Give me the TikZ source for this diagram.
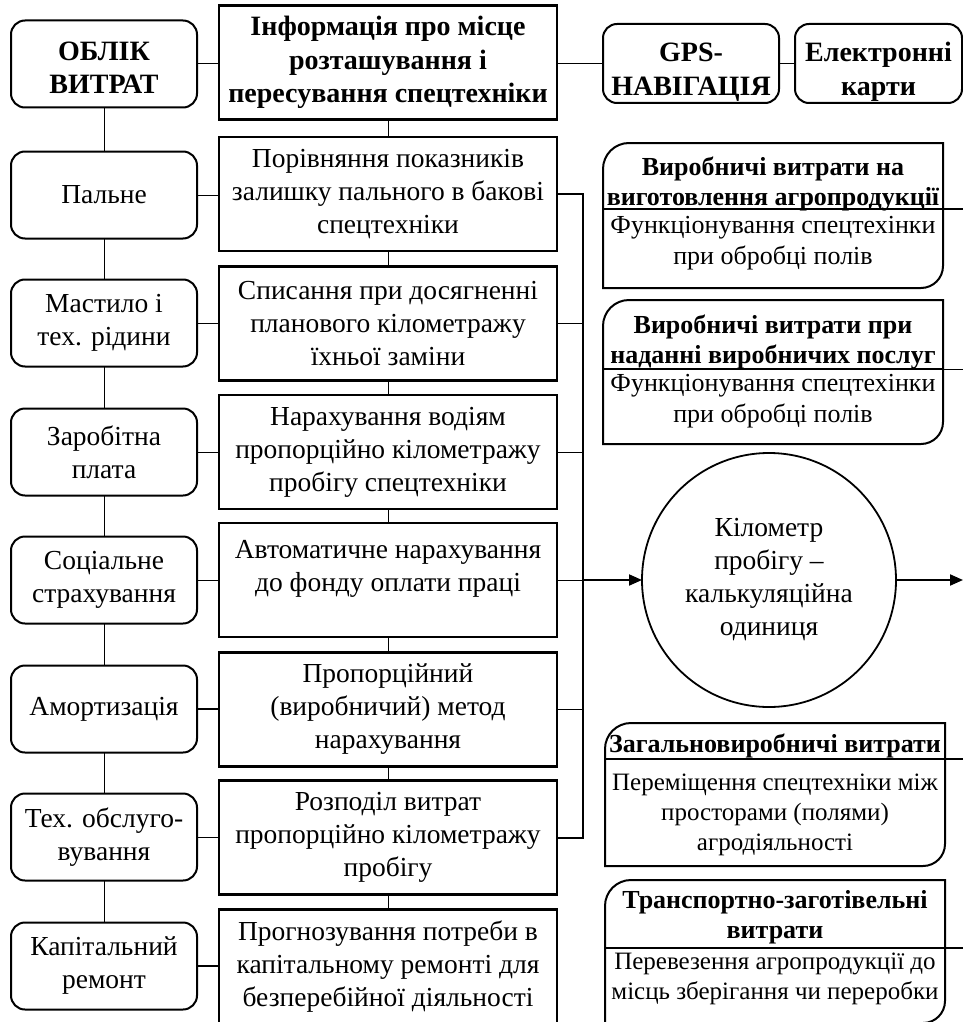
\documentclass[tikz,border=0pt]{standalone}
\usepackage{fontspec}
\setmainfont{Liberation Serif}
\usetikzlibrary{calc,arrows.meta}
% #1 left, #2 top, #3 right, #4 bottom (y grows downward)
\newcommand\rdoutline[4]{%
  \draw[line width=2pt] (#1,#2+26) arc[start angle=180, end angle=270, x radius=26, y radius=26]
    -- (#3,#2) -- (#3,#4-22) arc[start angle=0, end angle=90, x radius=22, y radius=22]
    -- (#1,#4) -- cycle;}
\begin{document}
\begin{tikzpicture}[x=1pt,y=-1pt,
  every node/.style={inner sep=0pt, outer sep=0pt},
  txt/.style={font=\fontsize{27.5}{33}\selectfont, align=center},
  bftxt/.style={font=\fontsize{28}{33.5}\selectfont\bfseries, align=center},
  lbox/.style={draw, line width=2pt, rounded corners=14pt, minimum width=186pt, minimum height=87pt},
  mbox/.style={draw, line width=2.7pt, minimum width=338pt, minimum height=114pt},
  rshape/.style={minimum width=340pt},
  rtxt/.style={font=\fontsize{26}{30.5}\selectfont, align=center},
  rtxts/.style={font=\fontsize{25}{30}\selectfont, align=center},
  rbf/.style={font=\fontsize{26}{30.5}\selectfont\bfseries, align=center},
  conn/.style={line width=1pt},
  bconn/.style={line width=2pt},
  arr/.style={line width=2pt, -{Triangle[length=13pt,width=11pt]}},
]
\clip (0,0) rectangle (963,1022);
\fill[white] (0,0) rectangle (963,1022);

% left column
\node[lbox] (ob) at (104,64) {};
\node[bftxt] (obt) at (104,68) {ОБЛІК\\ВИТРАТ};
\node[lbox, txt] (l1) at (104,195) {Пальне};
\node[lbox, txt] (l2) at (104,323) {Мастило і\\тех. рідини};
\node[lbox, txt] (l3) at (104,452) {Заробітна\\плата};
\node[lbox, txt] (l4) at (104,580) {Соціальне\\страхування};
\node[lbox, txt] (l5) at (104,709) {Амортизація};
\node[lbox, txt] (l6) at (104,837) {Тех. обслуго-\\вування};
\node[lbox, txt] (l7) at (104,966) {Капітальний\\ремонт};

% middle column
\node[mbox, bftxt] (m0) at (388,62.5) {Інформація про місце\\розташування і\\пересування спецтехніки};
\node[mbox, txt] (m1) at (388,194) {Порівняння показників\\залишку пального в бакові\\спецтехніки};
\node[mbox, txt] (m2) at (388,323.5) {Списання при досягненні\\планового кілометражу\\їхньої заміни};
\node[mbox, txt] (m3) at (388,452) {Нарахування водіям\\пропорційно кілометражу\\пробігу спецтехніки};
\node[mbox] (m4) at (388,580) {};
\node[txt] (m4t) at (388,569) {Автоматичне нарахування\\до фонду оплати праці};
\node[mbox, txt] (m5) at (388,709.5) {Пропорційний\\(виробничий) метод\\нарахування};
\node[mbox, txt] (m6) at (388,837.5) {Розподіл витрат\\пропорційно кілометражу\\пробігу};
\node[mbox, txt] (m7) at (388,966.5) {Прогнозування потреби в\\капітальному ремонті для\\безперебійної діяльності};

% top right
\node[lbox, minimum width=176pt, minimum height=79pt] (gps) at (691,63.5) {};
\node[bftxt] (gpst) at (691,72) {GPS-\\НАВІГАЦІЯ};
\node[lbox, minimum width=167pt, minimum height=79pt] (ek) at (878.5,63.5) {};
\node[bftxt] (ekt) at (878.5,72) {Електронні\\карти};

% circle
\node[draw, circle, line width=1.8pt, minimum size=254pt, txt] (km) at (769,580) {Кілометр\\пробігу –\\калькуляційна\\одиниця};

% right boxes
\node[rshape, minimum height=145pt] (r1) at (773,215.5) {};
\node[rbf] (r1h) at (773,184) {Виробничі витрати на\\виготовлення агропродукції};
\node[rtxt] (r1b) at (773,243) {Функціонування спецтехінки\\при обробці полів};
\node[rshape, minimum height=144pt] (r2) at (773,372) {};
\node[rbf] (r2h) at (773,342) {Виробничі витрати при\\наданні виробничих послуг};
\node[rtxt] (r2b) at (773,401) {Функціонування спецтехінки\\при обробці полів};
\node[rshape, minimum height=143pt] (r3) at (775,794.5) {};
\node[rbf] (r3h) at (775,746) {Загальновиробничі витрати};
\node[rtxts] (r3b) at (775,815) {Переміщення спецтехніки між\\просторами (полями)\\агродіяльності};
\node[rshape, minimum height=143pt] (r4) at (775,951.5) {};
\node[rbf] (r4h) at (775,917) {Транспортно-заготівельні\\витрати};
\node[rtxts] (r4b) at (775,979) {Перевезення агропродукції до\\місць зберігання чи переробки};
\rdoutline{603}{143}{943}{288}
\rdoutline{603}{300}{943}{444}
\rdoutline{605}{723}{945}{866}
\rdoutline{605}{880}{945}{1023}

\coordinate (d1) at (963,209);
\coordinate (d2) at (963,369);
\coordinate (d3) at (963,759);
\coordinate (d4) at (963,948);
\draw[bconn] (r1.west |- d1) -- (r1.east |- d1);
\draw[bconn] (r2.west |- d2) -- (r2.east |- d2);
\draw[bconn] (r3.west |- d3) -- (r3.east |- d3);
\draw[bconn] (r4.west |- d4) -- (r4.east |- d4);
\draw[bconn] (r1.east |- d1) -- (d1);
\draw[conn] (r2.east |- d2) -- (d2);
\draw[line width=1.5pt] (r3.east |- d3) -- (d3);
\draw[line width=1.5pt] (r4.east |- d4) -- (d4);

% connectors top
\draw[conn] (ob.east) -- (ob.east -| m0.west);
\draw[conn] (gps.west -| m0.east) -- (gps.west);
\draw[conn] (gps) -- (ek);

% left verticals
\draw[conn] (ob) -- (l1);
\draw[conn] (l1) -- (l2);
\draw[conn] (l2) -- (l3);
\draw[conn] (l3) -- (l4);
\draw[conn] (l4) -- (l5);
\draw[conn] (l5) -- (l6);
\draw[conn] (l6) -- (l7);

% left to middle
\draw[conn] (l1.east) -- (l1.east -| m1.west);
\draw[conn] (l2.east) -- (l2.east -| m2.west);
\draw[conn] (l3.east) -- (l3.east -| m3.west);
\draw[conn] (l4.east) -- (l4.east -| m4.west);
\draw[bconn] (l5.east) -- (l5.east -| m5.west);
\draw[conn] (l6.east) -- (l6.east -| m6.west);
\draw[bconn] (l7.east) -- (l7.east -| m7.west);

% middle verticals
\draw[conn] (m0) -- (m1);
\draw[conn] (m1) -- (m2);
\draw[conn] (m2) -- (m3);
\draw[conn] (m3) -- (m4);
\draw[conn] (m4) -- (m5);
\draw[conn] (m5) -- (m6);
\draw[conn] (m6) -- (m7);

% bus
\coordinate (bus) at (583,0);
\draw[bconn] (m1.east) -- (m1.east -| bus) -- (m6.east -| bus) -- (m6.east);
\draw[conn] (m2.east) -- (m2.east -| bus);
\draw[conn] (m3.east) -- (m3.east -| bus);
\draw[conn] (m4.east) -- (m4.east -| bus);
\draw[conn] (m5.east) -- (m5.east -| bus);
\draw[arr] (km.west -| bus) -- (km.west);
\coordinate (out) at (963,580);
\draw[arr] (km.east) -- (out);
\end{tikzpicture}
\end{document}
